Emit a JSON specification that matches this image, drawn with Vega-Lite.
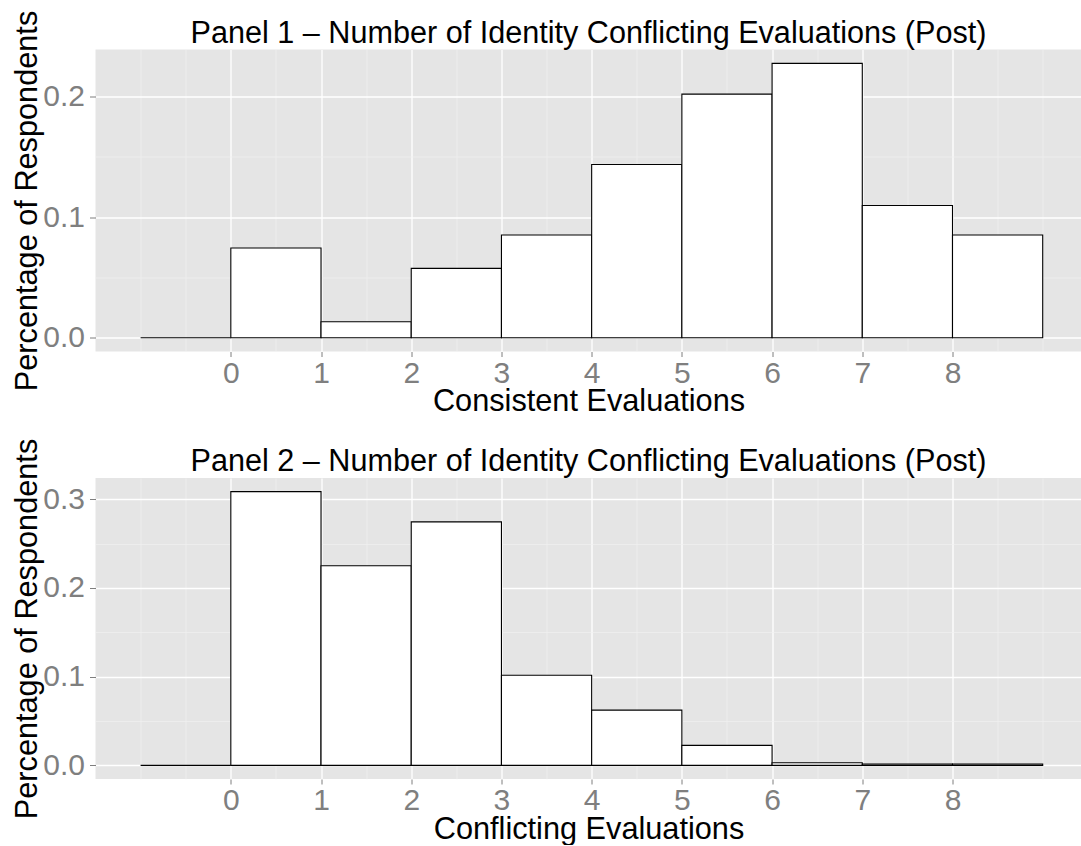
{
  "$schema": "https://vega.github.io/schema/vega-lite/v6.json",
  "background": "white",
  "autosize": {"type": "pad"},
  "padding": {"left": 10.5, "top": 9.5, "right": 0, "bottom": 0},
  "spacing": 21.5,
  "config": {
    "view": {"fill": "#E5E5E5", "stroke": null},
    "font": "Liberation Sans",
    "axis": {
      "domain": false,
      "labelFont": "Liberation Sans",
      "labelFontSize": 30,
      "labelColor": "#7F7F7F",
      "tickColor": "#7F7F7F",
      "tickSize": 5,
      "tickWidth": 1,
      "labelPadding": 1.5,
      "titleFont": "Liberation Sans",
      "titleFontSize": 30.7,
      "titleFontWeight": "normal",
      "titleColor": "black",
      "labelOverlap": false,
      "labelFlush": false
    },
    "axisY": {"labelPadding": 5, "tickSize": 6, "titleAngle": 270, "titleX": -59, "titleY": 151, "titleBaseline": "alphabetic", "titleAlign": "center"},
    "axisX": {"titleY": 59, "titleBaseline": "alphabetic"},
    "title": {"font": "Liberation Sans", "fontSize": 30.6, "fontWeight": "normal", "color": "black", "anchor": "middle", "offset": -39}
  },
  "datasets": {
    "post": [
      {"panel": "Consistent", "lo": -1, "hi": 0, "pct": 0},
      {"panel": "Consistent", "lo": 0, "hi": 1, "pct": 0.0745},
      {"panel": "Consistent", "lo": 1, "hi": 2, "pct": 0.0133},
      {"panel": "Consistent", "lo": 2, "hi": 3, "pct": 0.0576},
      {"panel": "Consistent", "lo": 3, "hi": 4, "pct": 0.0853},
      {"panel": "Consistent", "lo": 4, "hi": 5, "pct": 0.1438},
      {"panel": "Consistent", "lo": 5, "hi": 6, "pct": 0.2022},
      {"panel": "Consistent", "lo": 6, "hi": 7, "pct": 0.2277},
      {"panel": "Consistent", "lo": 7, "hi": 8, "pct": 0.1097},
      {"panel": "Consistent", "lo": 8, "hi": 9, "pct": 0.0853},
      {"panel": "Conflicting", "lo": -1, "hi": 0, "pct": 0},
      {"panel": "Conflicting", "lo": 0, "hi": 1, "pct": 0.3086},
      {"panel": "Conflicting", "lo": 1, "hi": 2, "pct": 0.225},
      {"panel": "Conflicting", "lo": 2, "hi": 3, "pct": 0.2745},
      {"panel": "Conflicting", "lo": 3, "hi": 4, "pct": 0.1016},
      {"panel": "Conflicting", "lo": 4, "hi": 5, "pct": 0.0623},
      {"panel": "Conflicting", "lo": 5, "hi": 6, "pct": 0.0225},
      {"panel": "Conflicting", "lo": 6, "hi": 7, "pct": 0.003},
      {"panel": "Conflicting", "lo": 7, "hi": 8, "pct": 0.0015},
      {"panel": "Conflicting", "lo": 8, "hi": 9, "pct": 0.0015}
    ]
  },
  "vconcat": [
    {
      "width": 986,
      "height": 302,
      "title": {"text": "Panel 1 – Number of Identity Conflicting Evaluations (Post)"},
      "data": {"name": "post"},
      "transform": [{"filter": "datum.panel === 'Consistent'"}],
      "mark": {"type": "rect", "fill": "white", "stroke": "black", "strokeWidth": 1.1},
      "encoding": {
        "x": {
          "field": "lo", "type": "quantitative",
          "scale": {"domain": [-1.5, 9.43], "nice": false, "zero": false},
          "axis": {
            "title": "Consistent Evaluations",
            "values": [-1, -0.5, 0, 0.5, 1, 1.5, 2, 2.5, 3, 3.5, 4, 4.5, 5, 5.5, 6, 6.5, 7, 7.5, 8, 8.5, 9],
            "labelExpr": "(datum.value >= 0 && datum.value <= 8 && datum.value % 1 === 0) ? format(datum.value, 'd') : ''",
            "tickOpacity": {"condition": {"test": "datum.value < 0 || datum.value > 8 || datum.value % 1 !== 0", "value": 0}, "value": 1},
            "gridColor": {"condition": {"test": "datum.value < 0 || datum.value > 8 || datum.value % 1 !== 0", "value": "#F2F2F2"}, "value": "#FFFFFF"},
            "gridWidth": {"condition": {"test": "datum.value < 0 || datum.value > 8 || datum.value % 1 !== 0", "value": 0.6}, "value": 1.3}
          }
        },
        "x2": {"field": "hi"},
        "y": {
          "field": "pct", "type": "quantitative",
          "scale": {"domain": [-0.0114, 0.2392], "nice": false, "zero": false},
          "axis": {
            "title": "Percentage of Respondents",
            "values": [0, 0.05, 0.1, 0.15, 0.2],
            "labelExpr": "(round(datum.value * 100) % 10 === 0) ? format(datum.value, '.1f') : ''",
            "tickOpacity": {"condition": {"test": "round(datum.value * 100) % 10 !== 0", "value": 0}, "value": 1},
            "gridColor": {"condition": {"test": "round(datum.value * 100) % 10 !== 0", "value": "#F2F2F2"}, "value": "#FFFFFF"},
            "gridWidth": {"condition": {"test": "round(datum.value * 100) % 10 !== 0", "value": 0.6}, "value": 1.3}
          }
        },
        "y2": {"datum": 0}
      }
    },
    {
      "width": 986,
      "height": 301,
      "title": {"text": "Panel 2 – Number of Identity Conflicting Evaluations (Post)"},
      "data": {"name": "post"},
      "transform": [{"filter": "datum.panel === 'Conflicting'"}],
      "mark": {"type": "rect", "fill": "white", "stroke": "black", "strokeWidth": 1.1},
      "encoding": {
        "x": {
          "field": "lo", "type": "quantitative",
          "scale": {"domain": [-1.5, 9.43], "nice": false, "zero": false},
          "axis": {
            "title": "Conflicting Evaluations",
            "values": [-1, -0.5, 0, 0.5, 1, 1.5, 2, 2.5, 3, 3.5, 4, 4.5, 5, 5.5, 6, 6.5, 7, 7.5, 8, 8.5, 9],
            "labelExpr": "(datum.value >= 0 && datum.value <= 8 && datum.value % 1 === 0) ? format(datum.value, 'd') : ''",
            "tickOpacity": {"condition": {"test": "datum.value < 0 || datum.value > 8 || datum.value % 1 !== 0", "value": 0}, "value": 1},
            "gridColor": {"condition": {"test": "datum.value < 0 || datum.value > 8 || datum.value % 1 !== 0", "value": "#F2F2F2"}, "value": "#FFFFFF"},
            "gridWidth": {"condition": {"test": "datum.value < 0 || datum.value > 8 || datum.value % 1 !== 0", "value": 0.6}, "value": 1.3}
          }
        },
        "x2": {"field": "hi"},
        "y": {
          "field": "pct", "type": "quantitative",
          "scale": {"domain": [-0.0154, 0.3240], "nice": false, "zero": false},
          "axis": {
            "title": "Percentage of Respondents",
            "titleY": 150.5,
            "values": [0, 0.05, 0.1, 0.15, 0.2, 0.25, 0.3],
            "labelExpr": "(round(datum.value * 100) % 10 === 0) ? format(datum.value, '.1f') : ''",
            "tickOpacity": {"condition": {"test": "round(datum.value * 100) % 10 !== 0", "value": 0}, "value": 1},
            "gridColor": {"condition": {"test": "round(datum.value * 100) % 10 !== 0", "value": "#F2F2F2"}, "value": "#FFFFFF"},
            "gridWidth": {"condition": {"test": "round(datum.value * 100) % 10 !== 0", "value": 0.6}, "value": 1.3}
          }
        },
        "y2": {"datum": 0}
      }
    }
  ]
}
